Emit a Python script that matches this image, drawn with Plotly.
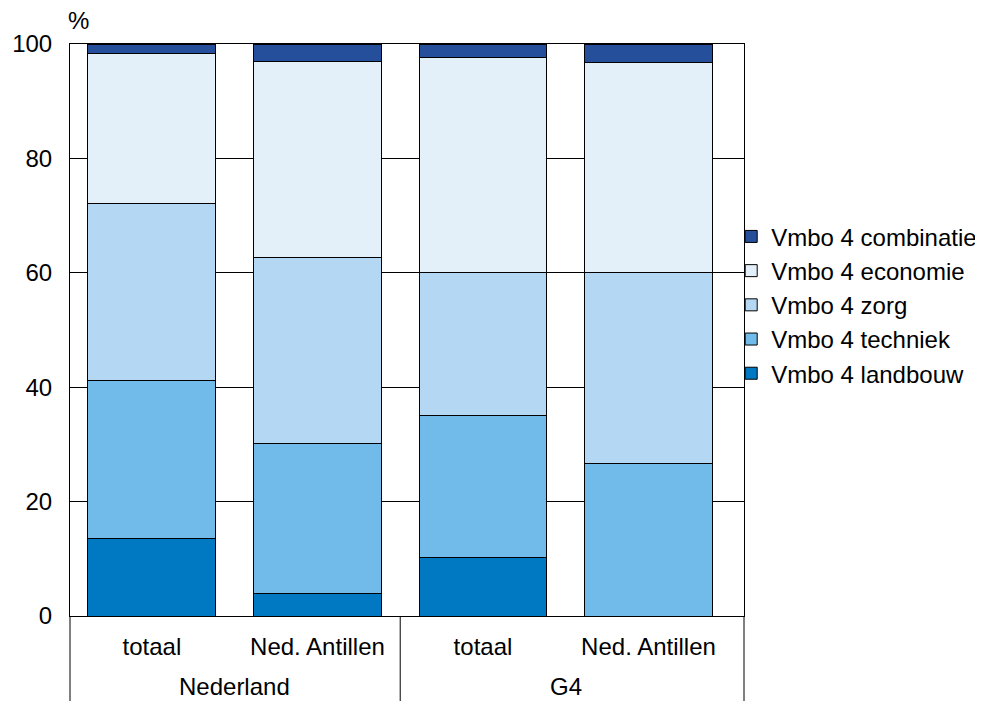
import plotly.graph_objects as go

groups = ["Nederland", "Nederland", "G4", "G4"]
subcats = ["totaal", "Ned. Antillen", "totaal", "Ned. Antillen"]

series_names = ["Vmbo 4 landbouw", "Vmbo 4 techniek", "Vmbo 4 zorg", "Vmbo 4 economie", "Vmbo 4 combinatie"]
landbouw = [13.6, 4.0, 10.3, 0.0]
techniek = [27.5, 26.2, 24.8, 26.6]
zorg = [31.1, 32.4, 25.0, 33.4]
economie = [26.1, 34.3, 37.5, 36.7]
combinatie = [1.7, 3.1, 2.4, 3.3]
values = [landbouw, techniek, zorg, economie, combinatie]
colors = ["#0079c2", "#71bbeb", "#b4d8f3", "#e3f0fa", "#264f9b"]

y_ticks = [0, 20, 40, 60, 80, 100]

xpos = list(range(len(subcats)))

fig = go.Figure()
for name, vals, col in zip(series_names, values, colors):
    fig.add_trace(go.Bar(
        x=xpos, y=vals, name=name,
        marker=dict(color=col, line=dict(color="#000000", width=1)),
    ))

fig.update_layout(
    barmode="stack",
    bargap=0.227,
    width=975, height=693,
    margin=dict(l=62, r=239, t=36, b=85, autoexpand=False),
    plot_bgcolor="white", paper_bgcolor="white",
    font=dict(family="Liberation Sans, Arial, sans-serif", size=24, color="#000000"),
    legend=dict(traceorder="reversed", x=0.981, y=0.544, xanchor="left", yanchor="middle",
                font=dict(size=24), itemwidth=30, tracegroupgap=0, bgcolor="rgba(0,0,0,0)"),
    showlegend=True,
)
fig.update_yaxes(range=[0, 100], tickvals=y_ticks, showgrid=True, gridcolor="#000000", gridwidth=1,
                 showline=True, linecolor="#000000", mirror=True, ticks="", zeroline=False,
                 tickfont=dict(size=24), ticklabelstandoff=12, automargin=False)
fig.update_xaxes(range=[-0.495, 3.577], tickvals=xpos, ticktext=subcats, showline=True,
                 linecolor="#000000", mirror=True, showgrid=False, zeroline=False, ticks="",
                 tickfont=dict(size=24), ticklabelstandoff=9, automargin=False)

# group labels and dividers
unique_groups = list(dict.fromkeys(groups))
for g in unique_groups:
    idx = [i for i, gg in enumerate(groups) if gg == g]
    fig.add_annotation(text=g, x=sum(idx) / len(idx), xref="x", y=0, yref="paper",
                       yshift=-70, yanchor="middle", showarrow=False, font=dict(size=24))
fig.add_shape(type="line", xref="paper", yref="paper", x0=0, x1=0, y0=0, y1=-0.16,
              line=dict(color="#000000", width=1))
fig.add_shape(type="line", xref="paper", yref="paper", x0=1, x1=1, y0=0, y1=-0.16,
              line=dict(color="#000000", width=1))
for i in range(1, len(groups)):
    if groups[i] != groups[i - 1]:
        fig.add_shape(type="line", xref="x", yref="paper", x0=i - 0.5, x1=i - 0.5, y0=0, y1=-0.16,
                      line=dict(color="#000000", width=1))

fig.add_annotation(text="%", x=0, xref="paper", y=1, yref="paper", xanchor="left", yanchor="bottom",
                   xshift=-4, yshift=8, showarrow=False, font=dict(size=24))

fig.write_html("out.html")
